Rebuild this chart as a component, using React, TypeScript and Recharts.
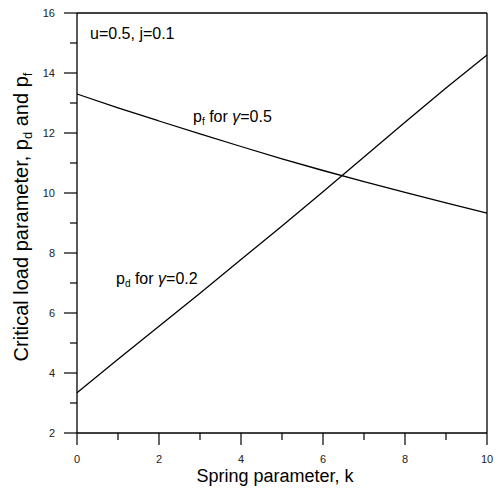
import React from 'react'
import { LineChart, Line, XAxis, YAxis, ReferenceLine } from 'recharts'

// spring parameter k
const kValues = [0, 1, 2, 3, 4, 5, 6, 7, 8, 9, 10]
// p_d for gamma = 0.2
const pdValues = [3.34, 4.46, 5.56, 6.66, 7.78, 8.9, 10.04, 11.2, 12.36, 13.5, 14.6]
// p_f for gamma = 0.5
const pfValues = [13.3, 12.84, 12.4, 11.97, 11.55, 11.14, 10.75, 10.38, 10.02, 9.67, 9.33]

const xTicks = [0, 1, 2, 3, 4, 5, 6, 7, 8, 9, 10]
const yTicks = [2, 3, 4, 5, 6, 7, 8, 9, 10, 11, 12, 13, 14, 15, 16]

const data = kValues.map((k, i) => ({ k, pd: pdValues[i], pf: pfValues[i] }))

const FONT = '"Liberation Sans", Arial, sans-serif'

const XTick = (props: any) => {
  const { x, y, payload } = props
  const major = payload.value % 2 === 0
  return (
    <g>
      <line x1={x} x2={x} y1={y} y2={y + (major ? 12 : 7)} stroke="#000" strokeWidth={1.2} />
      {major && (
        <text x={x} y={y + 30} textAnchor="middle" fontSize={11} fontFamily={FONT} fill="#222">
          {payload.value}
        </text>
      )}
    </g>
  )
}

const YTick = (props: any) => {
  const { x, y, payload } = props
  const major = payload.value % 2 === 0
  return (
    <g>
      <line x1={x} x2={x - (major ? 13 : 7)} y1={y} y2={y} stroke="#000" strokeWidth={1.2} />
      {major && (
        <text x={x - 22} y={y + 4} textAnchor="end" fontSize={11} fontFamily={FONT} fill="#222">
          {payload.value}
        </text>
      )}
    </g>
  )
}

export default function App() {
  return (
    <div style={{ position: 'absolute', left: 0, top: 0, width: 498, height: 488, background: '#fff' }}>
      <LineChart width={498} height={488} data={data} margin={{ top: 13, right: 11, left: 0, bottom: 0 }}>
        <XAxis
          dataKey="k"
          type="number"
          domain={[0, 10]}
          ticks={xTicks}
          interval={0}
          height={55}
          tickSize={0}
          tickMargin={0}
          tickLine={false}
          tick={<XTick />}
          axisLine={{ stroke: '#000', strokeWidth: 1.3 }}
        />
        <YAxis
          type="number"
          domain={[2, 16]}
          ticks={yTicks}
          interval={0}
          width={77}
          tickSize={0}
          tickMargin={0}
          tickLine={false}
          tick={<YTick />}
          axisLine={{ stroke: '#000', strokeWidth: 1.3 }}
        />
        <ReferenceLine x={10} stroke="#000" strokeWidth={1.3} />
        <ReferenceLine y={16} stroke="#000" strokeWidth={1.3} />
        <Line dataKey="pd" stroke="#000" strokeWidth={1.3} dot={false} isAnimationActive={false} type="linear" />
        <Line dataKey="pf" stroke="#000" strokeWidth={1.3} dot={false} isAnimationActive={false} type="monotone" />
      </LineChart>
      <svg width={498} height={488} style={{ position: 'absolute', left: 0, top: 0, pointerEvents: 'none' }}>
        <g fontFamily={FONT} fill="#000">
          <text x={90} y={39} fontSize={16}>u=0.5, j=0.1</text>
          <text x={193} y={122} fontSize={16}>
            p<tspan fontSize={10} dy={3}>f</tspan>
            <tspan dy={-3}> for </tspan>
            <tspan fontStyle="italic">γ</tspan>=0.5
          </text>
          <text x={116} y={284} fontSize={16}>
            p<tspan fontSize={10} dy={3}>d</tspan>
            <tspan dy={-3}> for </tspan>
            <tspan fontStyle="italic">γ</tspan>=0.2
          </text>
          <text x={275} y={482} fontSize={18} textAnchor="middle">Spring parameter, k</text>
          <text x={28} y={217} fontSize={20} textAnchor="middle" transform="rotate(-90 28 217)">
            Critical load parameter, p<tspan fontSize={13} dy={4}>d</tspan>
            <tspan dy={-4}> and p</tspan>
            <tspan fontSize={13} dy={4}>f</tspan>
          </text>
        </g>
      </svg>
    </div>
  )
}
